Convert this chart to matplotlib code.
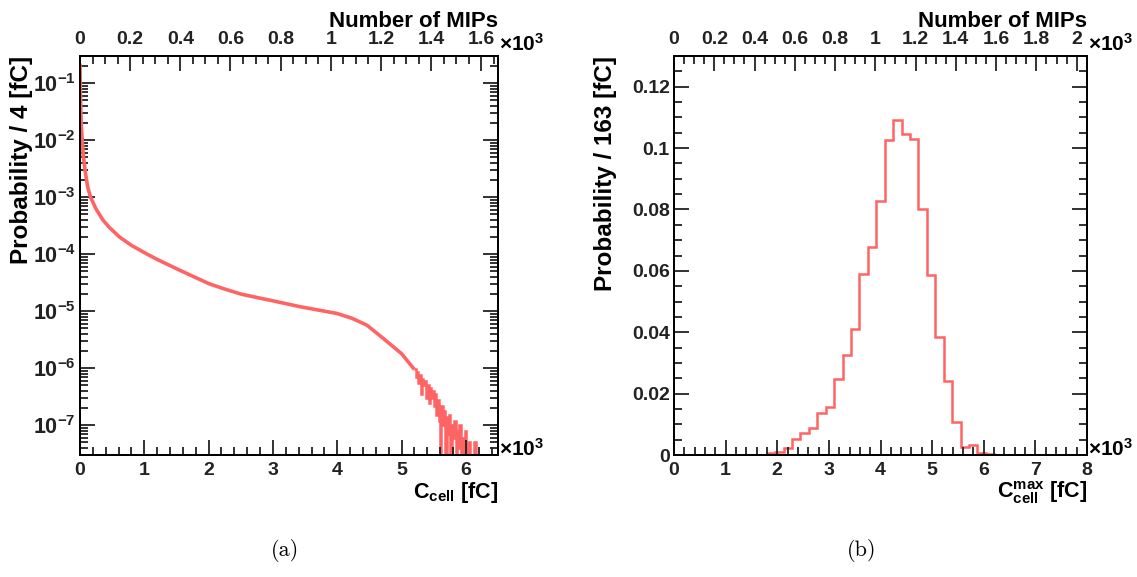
import numpy as np
import matplotlib
matplotlib.use("Agg")
import matplotlib.pyplot as plt
from matplotlib.ticker import MultipleLocator, FuncFormatter, LogLocator, NullFormatter

plt.rcParams["font.family"] = ["Liberation Sans", "DejaVu Sans"]
plt.rcParams["font.weight"] = "bold"
plt.rcParams["mathtext.fontset"] = "custom"
plt.rcParams["mathtext.rm"] = "Liberation Sans:bold"
plt.rcParams["mathtext.bf"] = "Liberation Sans:bold"
plt.rcParams["mathtext.it"] = "Liberation Sans:bold"

FC_PER_MIP = 3.9

# (a) single cell charge spectrum, 4 fC bins
cell_charge = [0, 4, 8, 12, 20, 34, 50, 86, 120, 164, 250, 355, 450, 615, 800,
               1031, 1200, 1446, 1700, 2017, 2250, 2500, 2750, 3000, 3420, 4000,
               4230, 4460, 4720, 5000, 5200]
cell_prob = [0.22, 0.1, 0.055, 0.035, 0.018, 0.01, 0.0055, 0.0026, 0.0015,
             0.001, 6.2e-4, 4.0e-4, 3.0e-4, 2.0e-4, 1.43e-4, 1.02e-4, 8.1e-5,
             5.96e-5, 4.37e-5, 3.0e-5, 2.45e-5, 2.0e-5, 1.74e-5, 1.52e-5,
             1.2e-5, 9.1e-6, 7.5e-6, 5.7e-6, 3.3e-6, 1.8e-6, 9.5e-7]

# noisy tail, 20 fC steps from 5200 fC (0 = empty bin)
tail_start = 5200
tail_step = 20
tail_prob = [9.5e-7, 7.0e-7, 8.5e-7, 5.5e-7, 7.5e-7, 3.5e-7, 6.5e-7, 5.0e-7,
             6.0e-7, 3.0e-7, 5.0e-7, 2.5e-7, 4.5e-7, 3.0e-7, 4.0e-7, 2.2e-7,
             3.5e-7, 1.5e-7, 2.8e-7, 1.2e-7, 0, 2.2e-7, 1.0e-7, 1.8e-7, 0,
             1.4e-7, 7e-8, 1.5e-7, 0, 1.0e-7, 6e-8, 1.2e-7, 0, 8e-8, 4e-8,
             1.0e-7, 0, 6e-8, 0, 8e-8, 4e-8, 0, 5e-8, 0, 0, 0, 5e-8, 5e-8,
             0, 0, 0, 0, 0, 0, 0, 0, 0, 0, 0, 0, 0, 0, 0, 0, 0, 0]

# (b) max cell charge, 49 bins over 0-8000 fC
max_edges = np.linspace(0, 8000, 50)
max_prob = [0] * 11 + [0.0008, 0.0011, 0.0022, 0.0051, 0.0073, 0.0089, 0.0136,
                       0.0157, 0.0248, 0.0326, 0.0412, 0.0589, 0.0678, 0.0827,
                       0.1025, 0.109, 0.1047, 0.1029, 0.080, 0.0586, 0.0385,
                       0.0241, 0.0106, 0.0027, 0.0033, 0.0007, 0.0003] + [0] * 11

RED = "#ff6464"
TICK = dict(direction="in", width=1.3, colors="#222222", labelsize=14)

fig = plt.figure(figsize=(11.37, 5.77), dpi=100)
W, H = 1137, 577
ax1 = fig.add_axes([80 / W, 122 / H, 418 / W, 399 / H])
ax2 = fig.add_axes([674 / W, 122 / H, 413 / W, 399 / H])


def style_frame(ax):
    for s in ax.spines.values():
        s.set_linewidth(1.4)
    ax.tick_params(which="both", bottom=True, top=False, left=True, right=True, **TICK)
    ax.tick_params(which="major", length=11)
    ax.tick_params(which="minor", length=6)
    ax.tick_params(axis="x", pad=5)
    ax.tick_params(axis="y", pad=3)
    ax.xaxis.set_major_locator(MultipleLocator(1000))
    ax.xaxis.set_minor_locator(MultipleLocator(200))
    ax.xaxis.set_major_formatter(FuncFormatter(lambda v, p: f"{v / 1000:g}"))


def mip_axis(ax, xmax):
    top = ax.twiny()
    top.set_xlim(0, xmax / FC_PER_MIP)
    top.xaxis.set_major_locator(MultipleLocator(200))
    top.xaxis.set_minor_locator(MultipleLocator(50))
    top.xaxis.set_major_formatter(FuncFormatter(lambda v, p: f"{v / 1000:g}"))
    top.tick_params(which="both", **TICK)
    top.tick_params(which="major", length=11, pad=6)
    top.tick_params(which="minor", length=6)
    for s in top.spines.values():
        s.set_linewidth(1.4)
    top.set_xlabel("Number of MIPs", fontsize=16, fontweight="bold", loc="right")
    top.xaxis.set_label_coords(1.0, 1.072)
    top.text(1.003, 1.003, r"$\times10^{3}$", transform=top.transAxes,
             fontsize=15, ha="left", va="bottom")
    return top


# ---- (a)
ymin = 3e-8
tail_x = tail_start + tail_step * np.arange(len(tail_prob) + 1)
tail_y = [p if p > 0 else ymin for p in tail_prob]
ax1.plot(cell_charge, cell_prob, color=RED, lw=2.6, solid_capstyle="butt")
ax1.stairs(tail_y, tail_x, color=RED, lw=1.8, baseline=None)
ax1.set_yscale("log")
ax1.set_xlim(0, 6500)
ax1.set_ylim(ymin, 0.3)
style_frame(ax1)
ax1.yaxis.set_major_locator(LogLocator(base=10, numticks=15))
ax1.yaxis.set_minor_locator(LogLocator(base=10, subs=np.arange(2, 10), numticks=15))
ax1.yaxis.set_minor_formatter(NullFormatter())
ax1.yaxis.set_major_formatter(FuncFormatter(lambda v, p: rf"$10^{{{int(round(np.log10(v)))}}}$"))
ax1.tick_params(axis="y", labelsize=15.5)
ax1.set_ylabel("Probability / 4 [fC]", fontsize=17.5, fontweight="bold", loc="top")
ax1.yaxis.set_label_coords(-0.112, 1.0)
ax1.set_xlabel(r"C$_{\mathrm{cell}}$ [fC]", fontsize=15.5, fontweight="bold", loc="right",
               labelpad=1)
ax1.text(1.002, 0.015, r"$\times10^{3}$", transform=ax1.transAxes, fontsize=15,
         ha="left", va="center")
mip_axis(ax1, 6500)

# ---- (b)
ax2.stairs(max_prob, max_edges, color=RED, lw=1.8, baseline=None)
ax2.set_xlim(0, 8000)
ax2.set_ylim(0, 0.13)
style_frame(ax2)
ax2.yaxis.set_major_locator(MultipleLocator(0.02))
ax2.yaxis.set_minor_locator(MultipleLocator(0.005))
ax2.yaxis.set_major_formatter(FuncFormatter(lambda v, p: f"{v:g}"))
ax2.set_ylabel("Probability / 163 [fC]", fontsize=17.5, fontweight="bold", loc="top")
ax2.yaxis.set_label_coords(-0.138, 1.0)
ax2.set_xlabel(r"C$_{\mathrm{cell}}^{\mathrm{max}}$ [fC]", fontsize=15.5,
               fontweight="bold", loc="right", labelpad=0)
ax2.text(1.002, 0.015, r"$\times10^{3}$", transform=ax2.transAxes, fontsize=15,
         ha="left", va="center")
mip_axis(ax2, 8000)

fig.text(285 / W, 1 - 550 / H, "(a)", family="cmr10", fontsize=16, fontweight="normal",
         ha="center", va="center")
fig.text(862 / W, 1 - 550 / H, "(b)", family="cmr10", fontsize=16, fontweight="normal",
         ha="center", va="center")

fig.savefig("out.png", dpi=100)
